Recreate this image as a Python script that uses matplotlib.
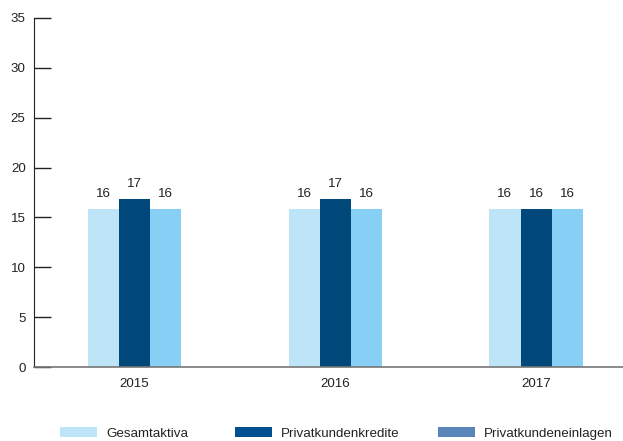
import matplotlib
matplotlib.use("Agg")
import matplotlib.pyplot as plt
from matplotlib.patches import Patch
import numpy as np

plt.rcParams["font.family"] = ["Liberation Sans", "DejaVu Sans"]

years = ["2015", "2016", "2017"]
series_names = ["Gesamtaktiva", "Privatkundenkredite", "Privatkundeneinlagen"]
gesamtaktiva = [15.8, 15.8, 15.8]
privatkundenkredite = [16.8, 16.8, 15.8]
privatkundeneinlagen = [15.8, 15.8, 15.8]
value_labels = [
    ["16", "16", "16"],
    ["17", "17", "16"],
    ["16", "16", "16"],
]

bar_colors = ["#bee4f8", "#00487a", "#87cff4"]
legend_colors = ["#bee4f8", "#00508f", "#5a85b9"]

fs = 9.6

fig = plt.figure(figsize=(6.23, 4.41), dpi=100)
ax = fig.add_axes([34 / 623, 1 - 367 / 441, 1 - 34 / 623, (367 - 18) / 441])

x = np.arange(len(years))
w = 0.155
series = [gesamtaktiva, privatkundenkredite, privatkundeneinlagen]
for k, (vals, col) in enumerate(zip(series, bar_colors)):
    bars = ax.bar(x + (k - 1) * w, vals, w, color=col, linewidth=0)
    for b, lab in zip(bars, value_labels[k]):
        ax.annotate(lab, (b.get_x() + b.get_width() / 2, b.get_height()),
                    xytext=(0, 6.5), textcoords="offset points",
                    ha="center", va="bottom", fontsize=fs, color="#222222")

ax.set_xlim(-0.5, (623 - 134) / 201)
ax.set_ylim(0, 35)
ax.set_yticks(np.arange(0, 36, 5))
ax.set_xticks(x, years)

for s in ["top", "right"]:
    ax.spines[s].set_visible(False)
ax.spines["left"].set_color("#222222")
ax.spines["bottom"].set_color("#777777")
ax.spines["bottom"].set_linewidth(1.2)
ax.tick_params(axis="y", direction="in", length=12, width=1, color="#222222",
               labelsize=fs, labelcolor="#222222", pad=6)
ax.tick_params(axis="x", length=0, labelsize=fs, labelcolor="#222222", pad=8)

anchors = [60 / 623, 235 / 623, 438 / 623]
for name, col, ax_x in zip(series_names, legend_colors, anchors):
    fig.legend(handles=[Patch(facecolor=col, edgecolor="none", label=name)],
               loc="center left", bbox_to_anchor=(ax_x, 1 - 433.5 / 441),
               frameon=False, fontsize=fs, handlelength=2.75, handleheight=0.75,
               handletextpad=0.7, borderpad=0, borderaxespad=0,
               labelcolor="#222222")

fig.savefig("out.png", dpi=100)
